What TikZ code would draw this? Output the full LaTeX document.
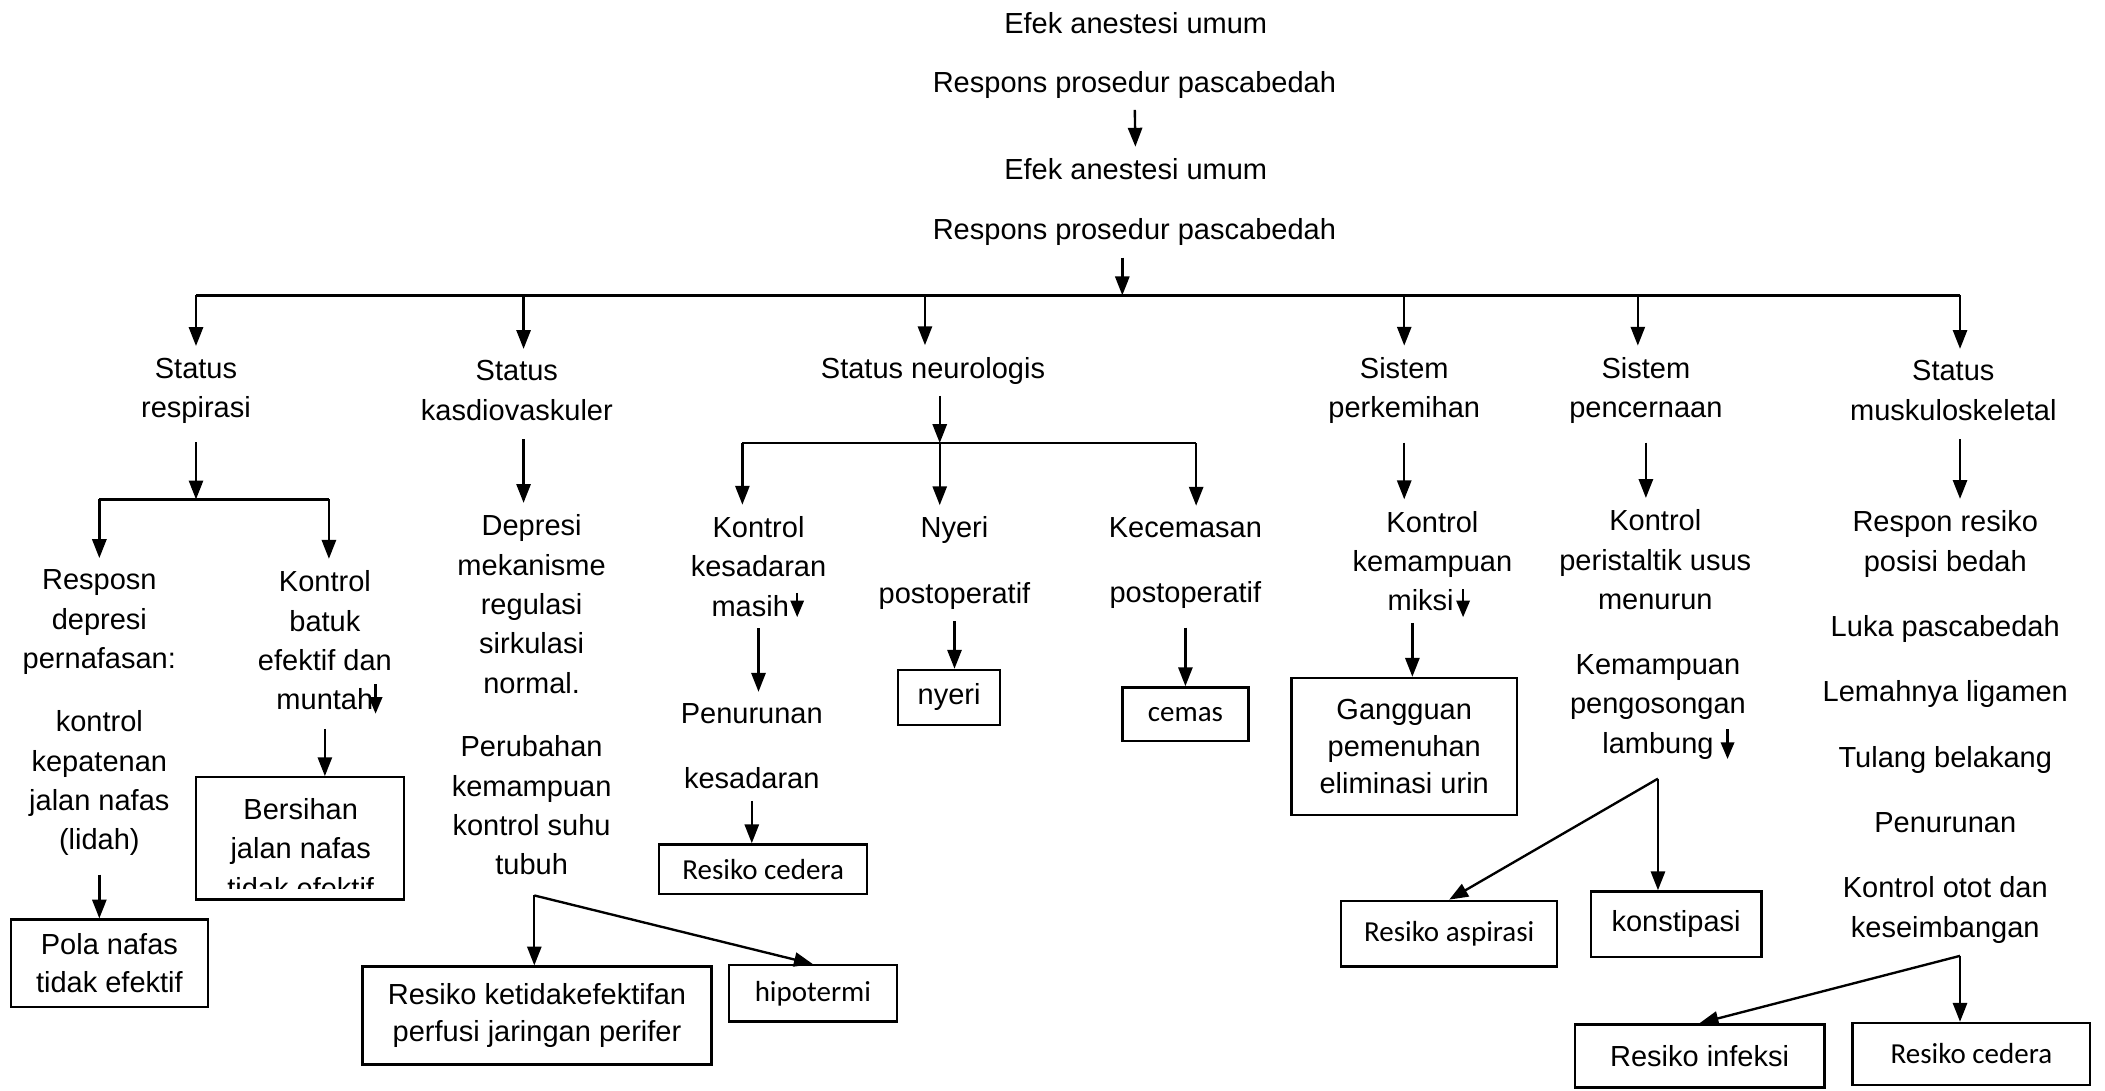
\documentclass[tikz,border=0pt]{standalone}
\usepackage{fontspec}
\setmainfont{Liberation Sans}
\newfontfamily\calfont{Carlito}
\usetikzlibrary{arrows.meta}

\begin{document}
\begin{tikzpicture}[x=0.02cm,y=-0.02cm,line width=1pt,
    txt/.style={align=center,inner sep=0pt,outer sep=5pt,yshift=-1.7pt,font=\fontsize{12.3}{16.7}\selectfont},
    box/.style={draw,align=center,inner sep=0pt,font=\fontsize{12.3}{15.8}\selectfont},
    calbox/.style={box,font=\calfont\fontsize{12.3}{15.8}\selectfont},
    arr/.style={-{Triangle[length=8pt,width=6pt]}},
    tick/.style={-{Triangle[length=7pt,width=5.6pt]}},
    lead/.style={shorten <=3pt}]
    \useasboundingbox (0,0) rectangle (1568,812);
    \node[txt] (e1) at (846,14) {Efek anestesi umum};
    \node[txt] (r1) at (845,60) {Respons prosedur pascabedah};
    \node[txt] (e2) at (846,123) {Efek anestesi umum};
    \node[txt] (r2) at (845,170) {Respons prosedur pascabedah};
    \draw[arr] (r1) -- (e2);
    \coordinate (hub) at (836,220);
    \draw[arr] (r2.south -| hub) -- (hub);
    \coordinate (b1) at (146,220);
    \coordinate (b2) at (390,220);
    \coordinate (b3) at (689,220);
    \coordinate (b4) at (1046,220);
    \coordinate (b5) at (1220,220);
    \coordinate (b6) at (1460,220);
    \draw (b1) -- (b6);
    \node[txt] (sresp) at (146,288) {Status\\respirasi};
    \node[txt] (skard) at (385,288) {Status\\kasdiovaskuler};
    \node[txt] (sneuro) at (695,273) {Status neurologis};
    \node[txt] (sperk) at (1046,288) {Sistem\\perkemihan};
    \node[txt] (spenc) at (1226,288) {Sistem\\pencernaan};
    \node[txt] (smusk) at (1455,288) {Status\\muskuloskeletal};
    \foreach \b/\n in {b1/sresp,b2/skard,b3/sneuro,b4/sperk,b5/spenc,b6/smusk}
        \draw[arr] (\b) -- (\b |- \n.north);

    \coordinate (rb) at (146,372);
    \coordinate (rb1) at (74,372);
    \coordinate (rb2) at (245,372);
    \draw[arr,lead] (sresp.south) -- (rb);
    \draw (rb1) -- (rb2);
    \node[txt] (resp1) at (74,528) {Resposn\\depresi\\pernafasan:\\[10pt]kontrol\\kepatenan\\jalan nafas\\(lidah)};
    \node[txt] (batuk) at (242,474) {Kontrol\\batuk\\efektif dan\\muntah};
    \draw[arr] (rb1) -- (rb1 |- resp1.north);
    \draw[arr] (rb2) -- (rb2 |- batuk.north);
    \draw[tick] ([shift={(21.5pt,16pt)}]batuk.south) -- ++(0,22);
    \node[box,minimum width=2.94cm,minimum height=1.30cm] (pola) at (81.5,717.5) {Pola nafas\\tidak efektif};
    \draw[arr,lead] (resp1.south) -- (resp1.south |- pola.north);
    \node[box,minimum width=3.10cm,minimum height=1.82cm] (bers) at (223.5,624.5) {};
    \begin{scope}
        \clip ([yshift=5pt]bers.south west) rectangle (bers.north east);
        \node[txt,outer sep=0pt] (berstxt) at (224,629) {Bersihan\\jalan nafas\\tidak efektif};
    \end{scope}
    \draw[arr,lead] (batuk.south) -- (batuk.south |- bers.north);

    \node[txt] (depr) at (396,447) {Depresi\\mekanisme\\regulasi\\sirkulasi\\normal.};
    \draw[arr,lead] (skard.south -| b2) -- (b2 |- depr.north);
    \node[txt] (perub) at (396,597) {Perubahan\\kemampuan\\kontrol suhu\\tubuh};
    \coordinate (kv) at (398,667);
    \node[box,minimum width=5.2cm,minimum height=1.46cm] (resk) at (400,756.5) {Resiko ketidakefektifan\\perfusi jaringan perifer};
    \node[calbox,minimum width=2.5cm,minimum height=0.84cm] (hipo) at (605.5,740) {hipotermi};
    \draw[arr] (kv) -- (kv |- resk.north);
    \draw[arr] (kv) -- (hipo.north);

    \coordinate (nb) at (700,330);
    \coordinate (nb1) at (553,330);
    \coordinate (nb3) at (891,330);
    \draw[arr] (sneuro.south -| nb) -- (nb);
    \draw (nb1) -- (nb3);
    \node[txt] (kesad) at (565,419) {Kontrol\\kesadaran\\masih\rule{7pt}{0pt}};
    \node[txt] (nyer) at (711,416.5) {Nyeri\\[11pt]postoperatif};
    \node[txt] (kecem) at (883,416.5) {Kecemasan\\[11pt]postoperatif};
    \draw[arr] (nb1) -- (nb1 |- kesad.north);
    \draw[arr] (nb) -- (nb |- nyer.north);
    \draw[arr] (nb3) -- (nb3 |- kecem.north);
    \draw[tick] ([shift={(16.4pt,15pt)}]kesad.south) -- ++(0,18);
    \node[txt] (penur) at (560,553) {Penurunan\\[11pt]kesadaran};
    \draw[arr] (kesad.south) -- (kesad.south |- penur.north);
    \node[calbox,minimum width=3.1cm,minimum height=0.74cm] (rced) at (568.5,647.5) {Resiko cedera};
    \draw[arr] (penur.south) -- (penur.south |- rced.north);
    \node[box,minimum width=1.52cm,minimum height=0.82cm] (nyb) at (707,519.5) {nyeri};
    \draw[arr] (nyer.south) -- (nyer.south |- nyb.north);
    \node[calbox,minimum width=1.88cm,minimum height=0.8cm] (cem) at (883,532) {cemas};
    \draw[arr,lead] (kecem.south) -- (kecem.south |- cem.north);

    \node[txt] (miksi) at (1067,415) {Kontrol\\kemampuan\\miksi\rule{10pt}{0pt}};
    \draw[arr,lead] (sperk.south) -- (sperk.south |- miksi.north);
    \draw[tick] ([shift={(13pt,14.4pt)}]miksi.south) -- ++(0,21);
    \node[box,minimum width=3.36cm,minimum height=2.04cm] (gang) at (1046,556) {Gangguan\\pemenuhan\\eliminasi urin};
    \draw[arr] ([xshift=-8.5pt]miksi.south) -- ([xshift=-8.5pt]miksi.south |- gang.north);

    \node[txt] (peri) at (1233,414) {Kontrol\\peristaltik usus\\menurun};
    \draw[arr,lead] (spenc.south) -- (spenc.south |- peri.north);
    \node[txt] (kosong) at (1235,523.5) {Kemampuan\\pengosongan\\lambung};
    \draw[tick] ([shift={(29.5pt,17.6pt)}]kosong.south) -- ++(0,22);
    \coordinate (pc) at (1235,580);
    \node[calbox,minimum width=3.22cm,minimum height=0.98cm] (aspi) at (1079.5,695.5) {Resiko aspirasi};
    \node[box,minimum width=2.54cm,minimum height=0.98cm] (konst) at (1248.5,688.5) {konstipasi};
    \draw[arr] (pc) -- (aspi.north);
    \draw[arr] (pc) -- (pc |- konst.north);

    \node[txt] (musk) at (1449,538.5) {Respon resiko\\posisi bedah\\[11pt]Luka pascabedah\\[11pt]Lemahnya ligamen\\[11pt]Tulang belakang\\[11pt]Penurunan\\[11pt]Kontrol otot dan\\keseimbangan};
    \draw[arr,lead] (smusk.south -| b6) -- (b6 |- musk.north);
    \coordinate (mk) at (1460,712);
    \node[box,minimum width=3.72cm,minimum height=0.94cm] (infk) at (1266,786.5) {Resiko infeksi};
    \node[calbox,minimum width=3.54cm,minimum height=0.92cm] (rced2) at (1468.5,785) {Resiko cedera};
    \draw[arr] (mk) -- (infk.north);
    \draw[arr] (mk) -- (mk |- rced2.north);
\end{tikzpicture}
\end{document}
